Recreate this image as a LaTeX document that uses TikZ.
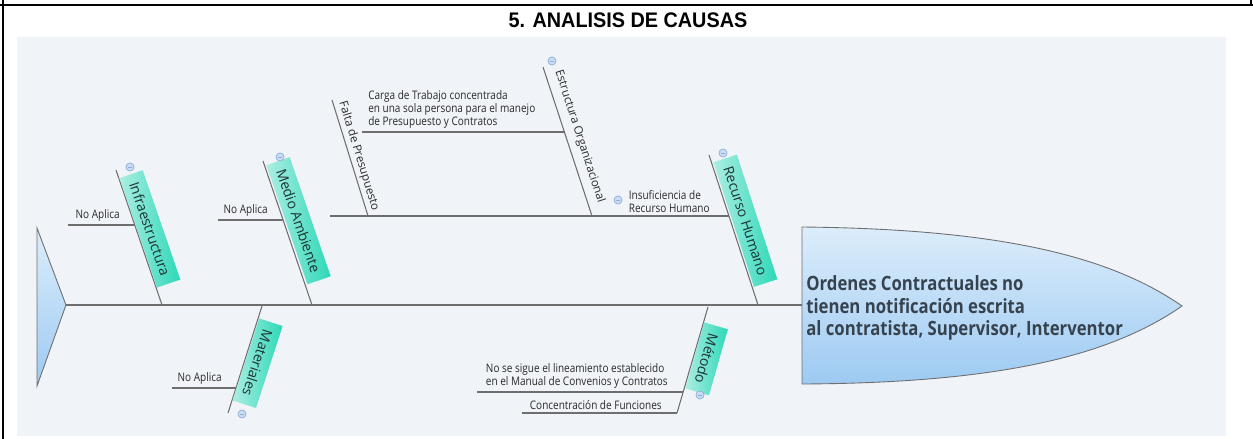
\documentclass[tikz,border=0pt]{standalone}
\usepackage{fontspec}
\setmainfont{Open Sans}
\newfontfamily\narrowfont[FakeStretch=0.85]{Open Sans}
\newfontfamily\titlefont[FakeStretch=0.94]{Liberation Sans}
\pgfdeclarelayer{back}
\pgfdeclarelayer{bg}
\pgfsetlayers{back,bg,main}
\definecolor{panel}{HTML}{F0F3F7}
\definecolor{bonegray}{HTML}{6E6E6E}
\definecolor{tealA}{HTML}{ABEEE2}
\definecolor{tealB}{HTML}{2ED8B8}
\definecolor{headA}{HTML}{DCEDFB}
\definecolor{headB}{HTML}{9DCAF2}
\definecolor{headText}{HTML}{36434F}
\definecolor{leafText}{HTML}{2A2A2A}
\definecolor{catText}{HTML}{1E3434}
\definecolor{foldA}{HTML}{C9DCF3}
\definecolor{foldB}{HTML}{8FAFD8}
\tikzset{
    bone/.style={draw=bonegray, line width=0.6pt},
    catbox/.style={rectangle, anchor=south west, left color=tealA, right color=tealB,
        inner xsep=5pt, inner ysep=0pt, minimum height=14pt, text=catText,
        font=\fontsize{8}{9}\selectfont},
    leaf/.style={inner sep=0pt, align=left, text=leafText,
        font=\narrowfont\fontsize{6.7}{7.6}\selectfont},
    rleaf/.style={inner sep=1pt, anchor=south west, text=leafText,
        font=\fontsize{6.6}{7}\selectfont},
    foldmark/.style={circle, draw=foldB, fill=foldA, inner sep=0pt, minimum size=4.6pt,
        path picture={\draw[foldB, line width=0.5pt]
            ([xshift=-1.2pt]path picture bounding box.center) --
            ([xshift=1.2pt]path picture bounding box.center);}}
}
\begin{document}
\begin{tikzpicture}[x=0.02cm, y=-0.02cm]
    \useasboundingbox (0,0) rectangle (1253,439);

    \begin{pgfonlayer}{back}
        \fill[panel] (17,37) rectangle (1226,436);
        \draw[line width=1.2pt] (0,5) -- (1253,5);
        \draw[line width=1.2pt] (3,0) -- (3,439);
        \draw[line width=1.2pt] (1251,0) -- (1251,5);
    \end{pgfonlayer}

    \node (title) [font=\titlefont\bfseries\fontsize{12}{14}\selectfont] at (628,20) {5. ANALISIS DE CAUSAS};

    \coordinate (tA) at (37,228);
    \coordinate (tail) at (66,305);
    \coordinate (tB) at (37,386);
    \coordinate (headL) at (802,305);
    \coordinate (hA) at (802,227);
    \coordinate (tip) at (1182,306);
    \coordinate (hB) at (802,384);

    \draw[draw=bonegray, line width=0.5pt, top color=headA, bottom color=headB] (tA) -- (tail) -- (tB) -- cycle;
    \draw[draw=bonegray, line width=0.5pt, top color=headA, bottom color=headB]
        (hA) .. controls (1000,229) and (1110,256) .. (tip)
        .. controls (1110,356) and (1000,383) .. (hB) -- cycle;
    \node (effect) [anchor=west, align=left, text=headText, inner sep=0pt,
        font=\narrowfont\bfseries\fontsize{11.2}{12.6}\selectfont] at (806,308)
        {Ordenes Contractuales no\\tienen notificación escrita\\al contratista, Supervisor, Interventor};

    \coordinate (iT) at (116,170);
    \coordinate (iB) at (162,305);
    \coordinate (mT) at (263,161);
    \coordinate (mB) at (312,305);
    \coordinate (rT) at (709,155);
    \coordinate (rB) at (758,305);
    \coordinate (maT) at (262,306);
    \coordinate (maB) at (228,413);
    \coordinate (meT) at (708,307);
    \coordinate (meB) at (677,413);

    \node (infra) [catbox, rotate=-71] at (119,178) {Infraestructura};
    \node (medio) [catbox, rotate=-71] at (266,165) {Medio Ambiente};
    \node (recurso) [catbox, rotate=-72] at (713,162) {Recurso Humano};
    \node (mater) [catbox, rotate=-108] at (259,318) {Materiales};
    \node (metodo) [catbox, rotate=-106] at (704,322) {Método};

    \node (fInfra) [foldmark] at (130,167) {};
    \node (fMedio) [foldmark] at (280,157) {};
    \node (fRecurso) [foldmark] at (723,153) {};
    \node (fEstr) [foldmark] at (552,61) {};
    \node (fInsuf) [foldmark] at (618,200) {};
    \node (fMater) [foldmark] at (242,414) {};
    \node (fMetodo) [foldmark] at (700,395) {};

    \coordinate (a1) at (68,225);
    \coordinate (j1) at (135,225);
    \coordinate (a2) at (218,220);
    \coordinate (j2) at (283,220);
    \coordinate (a3) at (172,388);
    \coordinate (j3) at (236,388);
    \coordinate (a4) at (330,216);
    \coordinate (j4) at (729,216);
    \coordinate (fT) at (332,100);
    \coordinate (fB) at (368,216);
    \coordinate (eT) at (543,67);
    \coordinate (eB) at (592,216);
    \coordinate (a5) at (362,132);
    \coordinate (j5) at (564,132);
    \coordinate (a6) at (477,392);
    \coordinate (j6) at (683,392);
    \coordinate (a7) at (522,413);

    \node (na1) [leaf, anchor=south east] at (120,222) {No Aplica};
    \node (na2) [leaf, anchor=south east] at (268,217) {No Aplica};
    \node (na3) [leaf, anchor=south east] at (222,385) {No Aplica};
    \node (insuf) [leaf, anchor=south east] at (710,213) {Insuficiencia de\\Recurso Humano};
    \node (carga) [leaf, anchor=south west] at (368,129) {Carga de Trabajo concentrada\\en una sola persona para el manejo\\de Presupuesto y Contratos};
    \node (sigue) [leaf, anchor=south east] at (668,389) {No se sigue el lineamiento establecido\\en el Manual de Convenios y Contratos};
    \node (conc) [leaf, anchor=south east] at (662,410) {Concentración de Funciones};
    \node (falta) [rleaf, rotate=-73] at (334,102) {Falta de Presupuesto};
    \node (estr) [rleaf, rotate=-72] at (550,71) {Estructura Organizacional};

    \begin{pgfonlayer}{bg}
        \draw[bone] (tail) edge (headL);
        \draw[bone] (iT) edge (iB);
        \draw[bone] (mT) edge (mB);
        \draw[bone] (rT) edge (rB);
        \draw[bone] (maT) edge (maB);
        \draw[bone] (meT) edge (meB);
        \draw[bone] (a1) edge (j1);
        \draw[bone] (a2) edge (j2);
        \draw[bone] (a3) edge (j3);
        \draw[bone] (a4) edge (j4);
        \draw[bone] (fT) edge (fB);
        \draw[bone] (eT) edge (eB);
        \draw[bone] (a5) edge (j5);
        \draw[bone] (a6) edge (j6);
        \draw[bone] (a7) edge (meB);
    \end{pgfonlayer}
\end{tikzpicture}
\end{document}
